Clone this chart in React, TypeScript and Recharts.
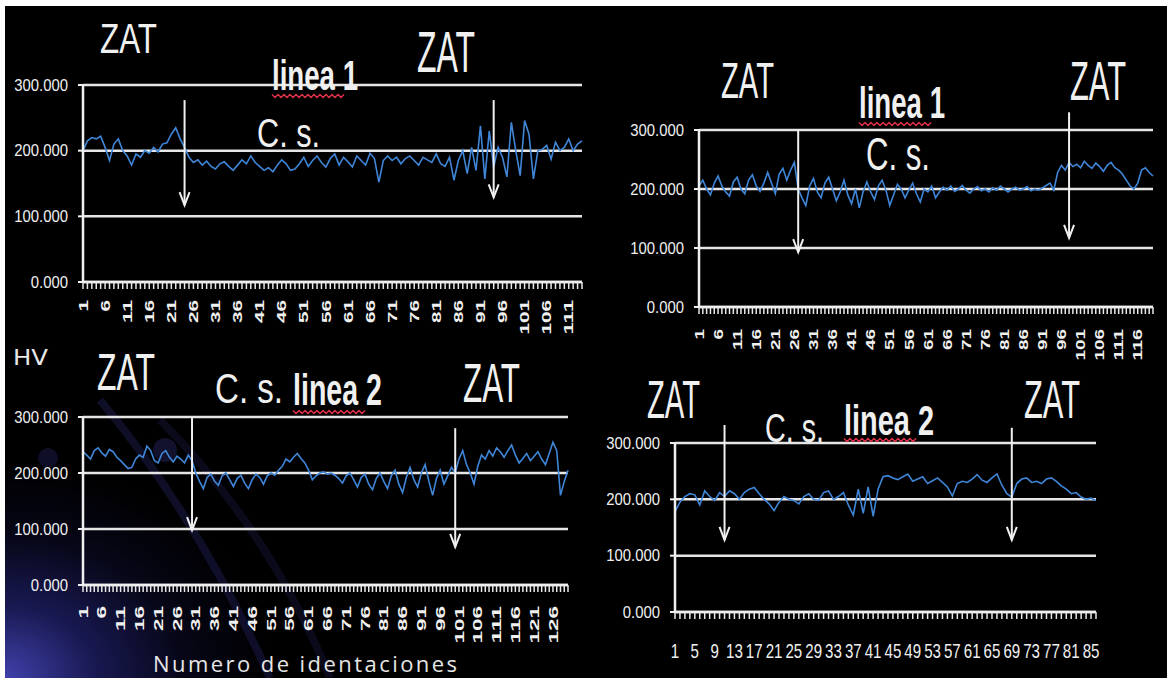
import React from 'react';
import { LineChart, Line, XAxis, YAxis, CartesianGrid, ReferenceLine } from 'recharts';

// ---------- data ----------
const yTicks = [0, 100, 200, 300];
const yTickLabels = ['0.000', '100.000', '200.000', '300.000'];

// top-left: linea 1 (114 indentaciones)
const tlValues = [
  200, 215, 220, 218, 222, 205, 185, 210, 218, 200,
  192, 178, 195, 190, 200, 196, 205, 198, 210, 212,
  225, 235, 218, 205, 190, 182, 186, 178, 184, 176,
  172, 180, 183, 176, 170, 178, 186, 180, 192, 182,
  176, 170, 174, 168, 178, 186, 180, 170, 172, 180,
  190, 176, 185, 192, 182, 175, 188, 195, 178, 190,
  183, 175, 192, 185, 178, 196, 188, 152, 185, 192,
  185, 190, 180, 188, 192, 185, 178, 190, 186, 182,
  195, 180, 176, 190, 155, 185, 200, 165, 205, 170,
  238, 157, 230, 175, 205, 190, 160, 243, 200, 162,
  246, 225, 157, 200, 202, 208, 187, 213, 200, 205,
  218, 200, 210, 215,
];
const tlTickLabels = ['1', '6', '11', '16', '21', '26', '31', '36', '41', '46', '51', '56', '61', '66', '71', '76', '81', '86', '91', '96', '101', '106', '111'];
const tlArrows = [{ at: 24, from: 277, to: 117 }, { at: 94, from: 277, to: 129 }];

// top-right: linea 1 (120 indentaciones)
const trValues = [
  205, 215, 200, 190, 210, 222, 205, 195, 188, 212,
  220, 200, 192, 215, 224, 205, 196, 210, 228, 210,
  192, 225, 235, 215, 232, 245, 200, 185, 172, 205,
  218, 195, 185, 210, 220, 200, 180, 195, 215, 190,
  175, 200, 168, 195, 212, 195, 182, 205, 215, 198,
  172, 190, 208, 200, 185, 198, 210, 192, 178, 200,
  195, 205, 185, 195, 203, 198, 205, 196, 200, 206,
  198, 193, 200, 204, 197, 200, 195, 202, 198, 205,
  200, 195, 200, 203, 198, 200, 204, 197, 200, 198,
  202, 206, 210, 198, 228, 240, 232, 245, 238, 242,
  236, 247, 240, 235, 244, 238, 230, 240, 245, 236,
  232, 225, 215, 205, 200, 210, 232, 236, 228, 222,
];
const trTickLabels = ['1', '6', '11', '16', '21', '26', '31', '36', '41', '46', '51', '56', '61', '66', '71', '76', '81', '86', '91', '96', '101', '106', '111', '116'];
const trArrows = [{ at: 27, from: 300, to: 93 }, { at: 98, from: 330, to: 117 }];

// bottom-left: linea 2 (130 indentaciones)
const blValues = [
  238, 232, 225, 240, 245, 236, 230, 242, 238, 228,
  222, 215, 208, 210, 225, 232, 228, 248, 240, 222,
  218, 235, 240, 228, 220, 230, 225, 218, 232, 222,
  200, 185, 172, 192, 198, 185, 178, 195, 200, 188,
  176, 190, 196, 182, 172, 188, 198, 192, 180, 195,
  200, 196, 205, 212, 225, 220, 228, 235, 226, 218,
  205, 188, 195, 200, 202, 198, 200, 196, 190, 182,
  195, 200, 188, 175, 192, 198, 180, 170, 190, 200,
  185, 172, 195, 205, 180, 165, 192, 210, 188, 175,
  200, 215, 185, 160, 190, 205, 180, 195, 210, 200,
  225, 240, 215, 200, 180, 212, 232, 225, 240, 230,
  245, 238, 228, 240, 250, 232, 218, 226, 235, 222,
  230, 238, 225, 215, 235, 255, 240, 160, 185, 205,
];
const blTickLabels = ['1', '6', '11', '16', '21', '26', '31', '36', '41', '46', '51', '56', '61', '66', '71', '76', '81', '86', '91', '96', '101', '106', '111', '116', '121', '126'];
const blArrows = [{ at: 30, from: 300, to: 98 }, { at: 100, from: 280, to: 68 }];

// bottom-right: linea 2 (86 indentaciones)
const brValues = [
  178, 195, 205, 210, 208, 190, 215, 205, 198, 212,
  205, 215, 210, 200, 212, 218, 221, 210, 200, 192,
  180, 195, 205, 200, 198, 192, 205, 210, 200, 198,
  212, 215, 200, 205, 212, 190, 172, 218, 175, 222,
  170, 218, 240, 242, 238, 235, 240, 245, 232, 236,
  240, 228, 233, 238, 230, 222, 206, 228, 232, 230,
  236, 244, 234, 230, 238, 245, 225, 210, 204, 228,
  236, 238, 230, 232, 228, 236, 238, 232, 224, 218,
  210, 212, 204, 200, 202, 198,
];
const brTickLabels = ['1', '5', '9', '13', '17', '21', '25', '29', '33', '37', '41', '45', '49', '53', '57', '61', '65', '69', '73', '77', '81', '85'];
const brArrows = [{ at: 11, from: 332, to: 128 }, { at: 69, from: 327, to: 128 }];

// ---------- style ----------
const FONT = '"Liberation Sans", Arial, Helvetica, sans-serif';
const WHITE = '#f0f0f0';
const BLUE = '#3f86d8';

const toRows = (vals: number[]) => vals.map((v, i) => ({ n: i + 1, v }));

const arrowShape = (p: any) => {
  const { x1, y1, x2, y2 } = p;
  return (
    <g>
      <line x1={x1} y1={y1} x2={x2} y2={y2} stroke={WHITE} strokeWidth={2} />
      <polyline
        points={`${x2 - 5},${y2 - 13} ${x2},${y2} ${x2 + 5},${y2 - 13}`}
        fill="none"
        stroke={WHITE}
        strokeWidth={2}
      />
    </g>
  );
};

const YTick = (props: any) => {
  const { x, y, payload } = props;
  const idx = yTicks.indexOf(payload.value);
  const s = idx >= 0 ? yTickLabels[idx] : '';
  const w = s.replace('.', '').length * 8.3 + 4;
  return (
    <text x={x} y={y} dy="0.36em" textAnchor="end" fill={WHITE} fontSize={16} fontFamily={FONT}
      textLength={w} lengthAdjust="spacingAndGlyphs">{s}</text>
  );
};

const makeRotTick = (labels: string[], size: number, step: number) => (props: any) => {
  const { x, y, payload } = props;
  const s = String(payload.value);
  if (!labels.includes(s)) return <g />;
  return (
    <text x={x} y={y} transform={`rotate(-90 ${x} ${y})`} textAnchor="end" dy="0.36em"
      fill={WHITE} fontSize={size} fontWeight="bold" fontFamily={FONT}
      textLength={s.length * step} lengthAdjust="spacingAndGlyphs">{s}</text>
  );
};

const makeFlatTick = (labels: string[]) => (props: any) => {
  const { x, y, payload } = props;
  const s = String(payload.value);
  if (!labels.includes(s)) return <g />;
  return (
    <text x={x} y={y} dy={16} textAnchor="middle" fill={WHITE} fontSize={21} fontFamily={FONT}
      textLength={s.length * 8.4} lengthAdjust="spacingAndGlyphs">{s}</text>
  );
};

type PanelProps = {
  left: number; top: number; width: number; height: number;
  margin: { top: number; right: number; bottom: number; left: number };
  yAxisWidth: number; xAxisHeight: number; tickMargin: number;
  values: number[]; tick: any; arrows: { at: number; from: number; to: number }[];
};

const Panel = (p: PanelProps) => (
  <div style={{ position: 'absolute', left: p.left, top: p.top, width: p.width, height: p.height }}>
    <LineChart width={p.width} height={p.height} data={toRows(p.values)} margin={p.margin} style={{ overflow: 'visible' }}>
      <CartesianGrid vertical={false} stroke="#e6e6e6" strokeWidth={2.5} />
      <XAxis dataKey="n" interval={0} height={p.xAxisHeight} tickSize={7} tickMargin={p.tickMargin}
        axisLine={{ stroke: WHITE, strokeWidth: 2.5 }} tickLine={{ stroke: '#e8e8e8', strokeWidth: 1.5 }} tick={p.tick} />
      <YAxis type="number" domain={[0, 300]} ticks={yTicks} width={p.yAxisWidth} tickSize={5} tickMargin={10}
        axisLine={{ stroke: WHITE, strokeWidth: 2.5 }} tickLine={{ stroke: WHITE, strokeWidth: 2 }} tick={<YTick />} />
      <Line type="linear" dataKey="v" stroke={BLUE} strokeWidth={1.6} dot={false} isAnimationActive={false} />
      {p.arrows.map((a, i) => (
        <ReferenceLine key={i} segment={[{ x: a.at, y: a.from }, { x: a.at, y: a.to }]} ifOverflow="visible" shape={arrowShape} />
      ))}
    </LineChart>
  </div>
);

const Squiggle = ({ x0, x1, y }: { x0: number; x1: number; y: number }) => {
  const pts: string[] = [];
  let k = 0;
  for (let x = x0; x <= x1; x += 3) {
    pts.push(`${x},${y + (k % 2 === 0 ? -1.5 : 1.5)}`);
    k++;
  }
  return <polyline points={pts.join(' ')} fill="none" stroke="#e0304a" strokeWidth={1.5} />;
};

const Txt = ({ x, y, w, size, children, bold }: any) => (
  <text x={x} y={y} fontSize={size} fontFamily={FONT} fill={WHITE} fontWeight={bold ? 'bold' : 'normal'}
    textLength={w} lengthAdjust="spacingAndGlyphs">{children}</text>
);

export default function App() {
  return (
    <div style={{ position: 'absolute', left: 0, top: 0, width: 1167, height: 678, background: '#ffffff', overflow: 'hidden' }}>
      <div style={{ position: 'absolute', left: 5, top: 6, width: 1162, height: 672, background: '#000000' }} />
      <div style={{
        position: 'absolute', left: 5, top: 340, width: 600, height: 338,
        background: 'radial-gradient(ellipse 60% 85% at 0% 100%, rgba(72,72,190,0.9) 0%, rgba(45,45,150,0.55) 25%, rgba(25,25,90,0.25) 50%, rgba(0,0,0,0) 75%)',
      }} />
      <svg width={1167} height={678} style={{ position: 'absolute', left: 0, top: 0 }}>
        <path d="M 100 400 Q 200 520 270 678" fill="none" stroke="rgba(70,70,190,0.2)" strokeWidth={8} />
        <path d="M 160 420 Q 270 530 330 678" fill="none" stroke="rgba(70,70,190,0.14)" strokeWidth={8} />
        <circle cx={165} cy={450} r={12} fill="rgba(80,80,210,0.22)" />
        <circle cx={48} cy={458} r={10} fill="rgba(80,80,210,0.18)" />
      </svg>

      <Panel left={0} top={0} width={600} height={340}
        margin={{ top: 85, right: 18, bottom: 8, left: 0 }} yAxisWidth={83} xAxisHeight={50} tickMargin={11}
        values={tlValues} tick={makeRotTick(tlTickLabels, 13, 11.5)} arrows={tlArrows} />
      <Panel left={600} top={40} width={567} height={330}
        margin={{ top: 90, right: 14, bottom: 8, left: 0 }} yAxisWidth={99} xAxisHeight={55} tickMargin={15}
        values={trValues} tick={makeRotTick(trTickLabels, 13, 10.5)} arrows={trArrows} />
      <Panel left={0} top={340} width={590} height={310}
        margin={{ top: 77, right: 22, bottom: 8, left: 0 }} yAxisWidth={83} xAxisHeight={57} tickMargin={14}
        values={blValues} tick={makeRotTick(blTickLabels, 13, 12.5)} arrows={blArrows} />
      <Panel left={590} top={370} width={577} height={308}
        margin={{ top: 73, right: 71, bottom: 8, left: 0 }} yAxisWidth={85} xAxisHeight={58} tickMargin={23}
        values={brValues} tick={makeFlatTick(brTickLabels)} arrows={brArrows} />

      <svg width={1167} height={678} style={{ position: 'absolute', left: 0, top: 0, pointerEvents: 'none' }}>
        {/* top-left */}
        <Txt x={100} y={53} w={57} size={43}>ZAT</Txt>
        <Txt x={417} y={72} w={58} size={57}>ZAT</Txt>
        <Txt x={272} y={90} w={86} size={42} bold>linea 1</Txt>
        <Squiggle x0={272} x1={345} y={96} />
        <Txt x={257} y={147} w={63} size={40}>C. s.</Txt>
        {/* top-right */}
        <Txt x={721} y={98} w={53} size={50}>ZAT</Txt>
        <Txt x={1070} y={100} w={56} size={55}>ZAT</Txt>
        <Txt x={859} y={118} w={86} size={44} bold>linea 1</Txt>
        <Squiggle x0={859} x1={932} y={124} />
        <Txt x={866} y={170} w={64} size={46}>C. s.</Txt>
        {/* bottom-left */}
        <text x={13} y={365} fontSize={21} fontFamily='"DejaVu Sans", sans-serif' fill="#e8e8e8" textLength={35} lengthAdjust="spacingAndGlyphs">HV</text>
        <Txt x={97} y={390} w={58} size={52}>ZAT</Txt>
        <Txt x={215} y={403} w={68} size={43}>C. s.</Txt>
        <Txt x={293} y={405} w={89} size={44} bold>linea 2</Txt>
        <Squiggle x0={293} x1={365} y={412} />
        <Txt x={463} y={402} w={57} size={55}>ZAT</Txt>
        <text x={153} y={672} fontSize={22} fontFamily='"Open Sans", "DejaVu Sans", sans-serif' fill="#e6e6e6" textLength={304} lengthAdjust="spacing">Numero de identaciones</text>
        {/* bottom-right */}
        <Txt x={647} y={418} w={53} size={53}>ZAT</Txt>
        <Txt x={1024} y={418} w={56} size={53}>ZAT</Txt>
        <Txt x={765} y={442} w={59} size={40}>C. s.</Txt>
        <Txt x={844} y={435} w={90} size={42} bold>linea 2</Txt>
        <Squiggle x0={844} x1={916} y={440} />
      </svg>
    </div>
  );
}
